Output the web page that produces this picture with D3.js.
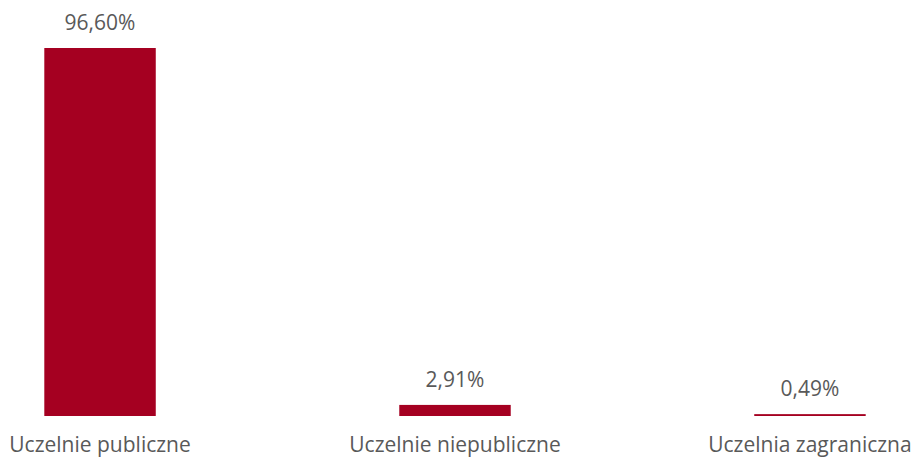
<!DOCTYPE html>
<html><head><meta charset="utf-8">
<script src="https://cdn.jsdelivr.net/npm/d3@7/dist/d3.min.js"></script>
<style>body{margin:0;background:#fff}svg{display:block}</style>
</head><body><svg id="c" width="912" height="459"></svg>
<script>
const categories = ["Uczelnie publiczne", "Uczelnie niepubliczne", "Uczelnia zagraniczna"];
const values = [96.60, 2.91, 0.49];
const valueLabels = ["96,60%", "2,91%", "0,49%"];

const svg = d3.select("#c");
const baseY = 416, topY = 48;
const x = d3.scaleBand().domain(categories).range([44.3, 865.7]).paddingInner(0.686).paddingOuter(0);
const y = d3.scaleLinear().domain([0, 96.60]).range([baseY, topY]);

svg.selectAll("rect.bar").data(values).join("rect")
  .attr("class","bar")
  .attr("x", (d,i)=>x(categories[i]))
  .attr("width", x.bandwidth())
  .attr("y", d=>y(d))
  .attr("height", d=>baseY - y(d))
  .attr("fill", "#A50021");

svg.selectAll("text.val").data(values).join("text")
  .attr("class","val")
  .attr("x",(d,i)=>x(categories[i]) + x.bandwidth()/2)
  .attr("y", d=>y(d) - 18)
  .attr("text-anchor","middle")
  .attr("font-family","Open Sans")
  .attr("font-size", 21)
  .attr("fill","#595959")
  .text((d,i)=>valueLabels[i]);

svg.selectAll("text.cat").data(categories).join("text")
  .attr("class","cat")
  .attr("x", d=>x(d) + x.bandwidth()/2)
  .attr("y", 452)
  .attr("text-anchor","middle")
  .attr("font-family","Open Sans")
  .attr("font-size", 21)
  .attr("fill","#595959")
  .text(d=>d);
</script></body></html>
